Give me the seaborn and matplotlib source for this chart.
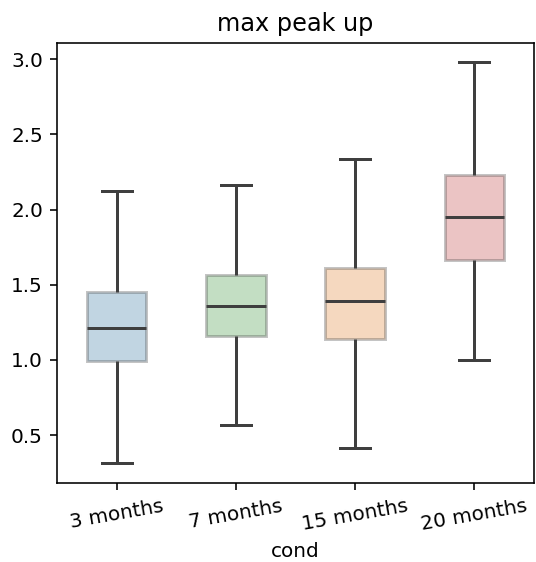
import numpy as np
import pandas as pd
import matplotlib
matplotlib.use("Agg")
import matplotlib.pyplot as plt
import seaborn as sns

# Five-number summaries per condition: low whisker, Q1, median, Q3, high whisker
conds = ["3 months", "7 months", "15 months", "20 months"]
v_3m = [0.317, 0.993, 1.213, 1.450, 2.124]
v_7m = [0.568, 1.160, 1.357, 1.563, 2.163]
v_15m = [0.415, 1.138, 1.394, 1.612, 2.336]
v_20m = [1.000, 1.665, 1.953, 2.228, 2.979]
box_colors = ["#1f77b4", "#2ca02c", "#ff7f0e", "#d62728"]

df = pd.DataFrame({
    "cond": np.repeat(conds, 5),
    "max peak up": v_3m + v_7m + v_15m + v_20m,
})

DPI = 144
fig = plt.figure(figsize=(536 / DPI, 562 / DPI), dpi=DPI)
ax = fig.add_axes([57 / 536, 79 / 562, 477 / 536, 440 / 562])

sns.boxplot(
    data=df, x="cond", y="max peak up", hue="cond", order=conds,
    palette=dict(zip(conds, box_colors)), legend=False,
    whis=np.inf, width=0.5, linewidth=1.5, showfliers=False, ax=ax,
    whiskerprops=dict(color="#3f3f3f"), capprops=dict(color="#3f3f3f"),
    medianprops=dict(color="#3f3f3f"),
)
for patch in ax.patches:
    patch.set_alpha(0.3)

ax.set_ylim(0.182, 3.108)
ax.set_title("max peak up")
ax.set_ylabel("")
ax.set_xlabel("cond")
ax.tick_params(axis="x", labelrotation=10)

fig.savefig("out.png", dpi=DPI)
